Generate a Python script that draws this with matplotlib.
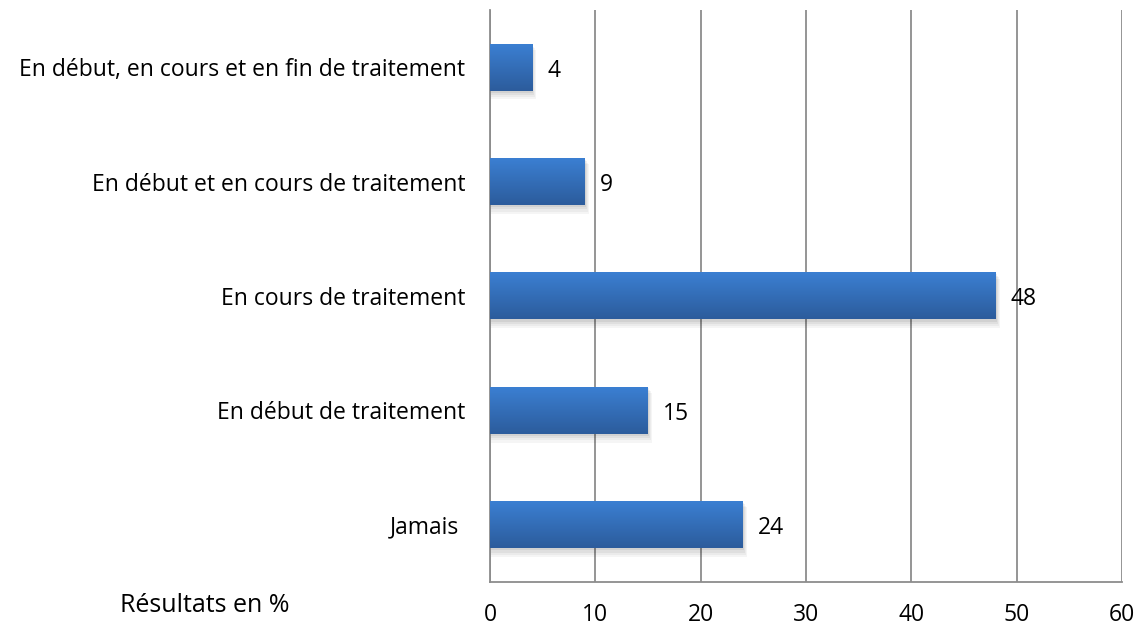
import matplotlib
matplotlib.use("Agg")
import matplotlib.pyplot as plt
import numpy as np
from matplotlib.patches import Rectangle

categories = ["Jamais ", "En début de traitement", "En cours de traitement",
              "En début et en cours de traitement",
              "En début, en cours et en fin de traitement"]
values = [24, 15, 48, 9, 4]
xticks = [0, 10, 20, 30, 40, 50, 60]

plt.rcParams['font.family'] = ['Open Sans', 'DejaVu Sans']

fig = plt.figure(figsize=(11.43, 6.23), dpi=100)
ax = fig.add_axes([0.4287, 0.0658, 0.9816 - 0.4287, 0.984 - 0.0658])

bar_h = 0.41
ypos = np.arange(len(categories))
fs = 16.5

# gradient image (light top -> dark bottom)
top_c = np.array([0x3B, 0x7F, 0xD2]) / 255
bot_c = np.array([0x2C, 0x5C, 0x9C]) / 255
t = np.linspace(0, 1, 64)[:, None]
grad = (top_c[None, :] * (1 - t) + bot_c[None, :] * t)[:, None, :]

for y, v in zip(ypos, values):
    # soft shadow
    for k, a in enumerate([0.04, 0.04, 0.05, 0.06]):
        off = 0.012 * (4 - k)
        sh = Rectangle((0, y - bar_h / 2 - off * 1.6), v + off * 8, bar_h + off * 0.5,
                       facecolor='black', alpha=a, edgecolor='none', zorder=2)
        ax.add_patch(sh)
    ax.imshow(grad, extent=(0, v, y - bar_h / 2, y + bar_h / 2),
              aspect='auto', origin='upper', zorder=3, interpolation='bilinear')
    ax.text(v + 1.45, y - 0.03, str(v), va='center', ha='left', fontsize=fs,
            color='black', zorder=4)

ax.set_xlim(0, 60)
ax.set_ylim(-0.5, len(categories) - 0.5)
ax.set_xticks(xticks)
ax.set_xticklabels([str(x) for x in xticks], fontsize=fs)
ax.set_yticks(ypos)
ax.set_yticklabels(categories, fontsize=fs)
ax.tick_params(axis='both', length=0)
ax.tick_params(axis='x', pad=15)
ax.tick_params(axis='y', pad=18)
ax.grid(axis='x', color='#8C8C8C', linewidth=1.3, zorder=1)
ax.set_axisbelow(True)
for s in ['top', 'right']:
    ax.spines[s].set_visible(False)
for s in ['left', 'bottom']:
    ax.spines[s].set_color('#8C8C8C')
    ax.spines[s].set_linewidth(1.3)

fig.text(120 / 1143, 1 - 605 / 623, "Résultats en %", fontsize=18, va='center', ha='left')

fig.savefig("out.png", dpi=100)
